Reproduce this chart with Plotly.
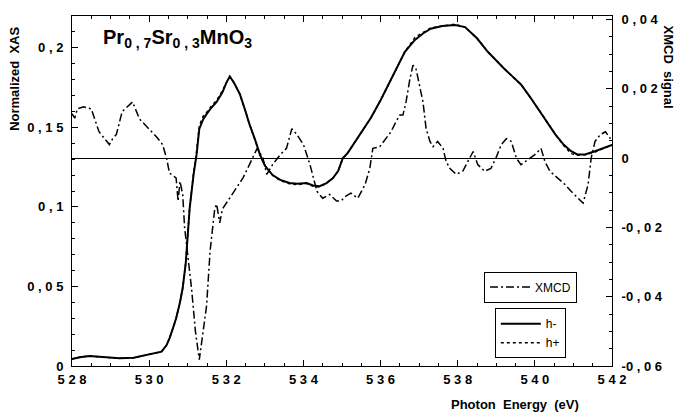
import plotly.graph_objects as go

# ---- data ----
energy_xas = [528.0, 528.2, 528.45, 528.8, 529.23, 529.6, 529.93, 530.15, 530.32, 530.45,
              530.53, 530.62, 530.7, 530.8, 530.87, 530.95, 531.0, 531.05, 531.15, 531.23,
              531.3, 531.4, 531.48, 531.6, 531.75, 531.9, 532.0, 532.09, 532.2, 532.35,
              532.5, 532.6, 532.75, 532.87, 533.0, 533.2, 533.4, 533.64, 533.85, 534.08,
              534.25, 534.42, 534.6, 534.76, 534.9, 535.02, 535.15, 535.4, 535.75, 536.0,
              536.2, 536.4, 536.63, 536.89, 537.1, 537.3, 537.6, 537.93, 538.19, 538.5,
              538.78, 539.2, 539.64, 539.85, 540.08, 540.3, 540.53, 540.75, 540.94, 541.1,
              541.3, 541.56, 541.8, 542.0]
xas_hminus = [0.0044, 0.0055, 0.0063, 0.0058, 0.0048, 0.0052, 0.0069, 0.0078, 0.009, 0.013,
              0.0175, 0.024, 0.03, 0.04, 0.049, 0.065, 0.08, 0.099, 0.12, 0.133,
              0.149, 0.155, 0.158, 0.162, 0.166, 0.172, 0.178, 0.182, 0.178, 0.171,
              0.16, 0.152, 0.142, 0.133, 0.126, 0.12, 0.117, 0.115, 0.1145, 0.115,
              0.1135, 0.113, 0.115, 0.118, 0.1225, 0.1306, 0.134, 0.143, 0.156, 0.167,
              0.177, 0.187, 0.1975, 0.205, 0.209, 0.212, 0.2137, 0.2144, 0.213, 0.206,
              0.1975, 0.187, 0.177, 0.17, 0.162, 0.154, 0.1456, 0.139, 0.135, 0.133,
              0.133, 0.135, 0.137, 0.139]
xas_hplus = [0.0044, 0.0055, 0.0063, 0.0058, 0.0048, 0.0052, 0.0069, 0.0078, 0.009, 0.013,
             0.0175, 0.024, 0.03, 0.04, 0.049, 0.065, 0.08, 0.099, 0.121, 0.135,
             0.151, 0.157, 0.159, 0.163, 0.167, 0.173, 0.178, 0.1815, 0.178, 0.171,
             0.16, 0.152, 0.142, 0.133, 0.126, 0.12, 0.1165, 0.1145, 0.114, 0.1148,
             0.113, 0.1125, 0.115, 0.118, 0.1225, 0.1306, 0.134, 0.143, 0.156, 0.167,
             0.177, 0.187, 0.1975, 0.2065, 0.2095, 0.2125, 0.2137, 0.2148, 0.213, 0.206,
             0.1975, 0.187, 0.177, 0.17, 0.162, 0.154, 0.1456, 0.1385, 0.1335, 0.1325,
             0.1328, 0.1345, 0.137, 0.139]

energy_xmcd = [528.0, 528.07, 528.14, 528.3, 528.5, 528.6, 528.7, 528.85, 528.97, 529.05,
               529.15, 529.3, 529.45, 529.57, 529.75, 529.9, 530.0, 530.2, 530.35, 530.45,
               530.53, 530.62, 530.7, 530.75, 530.8, 530.87, 530.92, 530.97, 531.1, 531.2,
               531.26, 531.3, 531.4, 531.49, 531.58, 531.62, 531.7, 531.75, 531.83, 531.9,
               532.09, 532.25, 532.43, 532.6, 532.8, 532.95, 533.05, 533.2, 533.4, 533.56,
               533.7, 533.83, 534.0, 534.17, 534.35, 534.5, 534.68, 534.86, 534.97, 535.1,
               535.23, 535.41, 535.6, 535.72, 535.8, 535.98, 536.27, 536.4, 536.5, 536.58,
               536.66, 536.76, 536.84, 536.92, 537.0, 537.1, 537.18, 537.28, 537.36, 537.48,
               537.62, 537.7, 537.8, 537.96, 538.13, 538.3, 538.4, 538.52, 538.7, 538.86,
               538.99, 539.13, 539.26, 539.39, 539.52, 539.64, 539.82, 540.0, 540.16, 540.26,
               540.39, 540.6, 540.78, 540.94, 541.12, 541.25, 541.38, 541.46, 541.56, 541.7,
               541.83, 541.96]
xmcd = [0.0128, 0.0115, 0.0142, 0.0148, 0.0142, 0.011, 0.0076, 0.0055, 0.0039, 0.0055,
        0.0068, 0.0134, 0.015, 0.0162, 0.0113, 0.0095, 0.0085, 0.006, 0.0039, 0.0,
        -0.0044, -0.005, -0.0058, -0.0124, -0.0067, -0.0105, -0.0201, -0.0248, -0.0377, -0.05,
        -0.0547, -0.0582, -0.05, -0.0425, -0.0268, -0.0233, -0.0147, -0.0133, -0.0187, -0.0147,
        -0.0116, -0.009, -0.0058, -0.0019, 0.0028, 0.0, -0.0047, -0.0019, 0.001, 0.0028,
        0.0085, 0.0068, 0.0039, -0.0019, -0.0096, -0.0116, -0.0105, -0.0124, -0.0124, -0.011,
        -0.0101, -0.0116, -0.0076, -0.003, 0.0028, 0.0033, 0.0076, 0.0105, 0.0124, 0.0124,
        0.0162, 0.0228, 0.0268, 0.0257, 0.021, 0.0162, 0.0085, 0.0048, 0.0033, 0.0048,
        0.0028, -0.001, -0.003, -0.0047, -0.0038, 0.0, 0.0019, -0.0019, -0.0038, -0.003,
        0.0, 0.0039, 0.0056, 0.0048, 0.0, -0.0019, -0.0004, 0.001, 0.0028, -0.001,
        -0.0038, -0.0058, -0.0076, -0.0096, -0.0116, -0.013, -0.0076, 0.0, 0.0048, 0.0068,
        0.0076, 0.0056]

x_ticks = [528, 530, 532, 534, 536, 538, 540, 542]
x_ticktext = ["5 2 8", "5 3 0", "5 3 2", "5 3 4", "5 3 6", "5 3 8", "5 4 0", "5 4 2"]
y_ticks = [0, 0.05, 0.1, 0.15, 0.2]
y_ticktext = ["0", "0 , 0 5", "0 , 1", "0 , 1 5", "0 , 2"]
y2_ticks = [-0.06, -0.04, -0.02, 0, 0.02, 0.04]
y2_ticktext = ["-0 , 0 6", "-0 , 0 4", "-0 , 0 2", "0", "0 , 0 2", "0 , 0 4"]

FONT = "Liberation Sans"
tickfont = dict(family=FONT, size=13, color="black", weight="bold")

fig = go.Figure()
fig.add_trace(go.Scatter(x=energy_xmcd, y=xmcd, yaxis="y2", mode="lines", name="XMCD",
                         line=dict(color="black", width=1.5, dash="8px,3px,2px,3px"),
                         legend="legend"))
fig.add_trace(go.Scatter(x=energy_xas, y=xas_hplus, mode="lines", name="h+",
                         line=dict(color="black", width=1.5, dash="dot"),
                         legend="legend2", legendrank=2))
fig.add_trace(go.Scatter(x=energy_xas, y=xas_hminus, mode="lines", name="h-",
                         line=dict(color="black", width=2),
                         legend="legend2", legendrank=1))

fig.update_layout(
    width=678, height=415,
    margin=dict(l=72, r=66, t=14, b=49),
    paper_bgcolor="white", plot_bgcolor="white",
    showlegend=True,
    xaxis=dict(range=[528, 542], tickvals=x_ticks, ticktext=x_ticktext, tickfont=tickfont,
               ticks="inside", ticklen=6, tickcolor="black", showline=True, linecolor="black",
               linewidth=1, mirror="ticks", showgrid=False, zeroline=False,
               ticklabelstandoff=1,
               minor=dict(dtick=0.5, tick0=528, ticks="inside", ticklen=3, tickcolor="black")),
    yaxis=dict(range=[0, 0.22], tickvals=y_ticks, ticktext=y_ticktext, tickfont=tickfont,
               ticks="inside", ticklen=6, tickcolor="black", showline=True, linecolor="black",
               linewidth=1, showgrid=False, zeroline=False, ticklabelstandoff=5,
               minor=dict(dtick=0.01, tick0=0, ticks="inside", ticklen=3, tickcolor="black")),
    yaxis2=dict(range=[-0.06, 0.041], overlaying="y", side="right", tickvals=y2_ticks,
                ticktext=y2_ticktext, tickfont=tickfont, ticks="inside", ticklen=6,
                tickcolor="black", showline=True, linecolor="black", linewidth=1,
                showgrid=False, zeroline=True, zerolinecolor="black", zerolinewidth=1,
                ticklabelstandoff=6,
                minor=dict(dtick=0.005, tick0=0, ticks="inside", ticklen=3, tickcolor="black")),
    legend=dict(x=0.763, y=0.27, xanchor="left", yanchor="top", bordercolor="black",
                borderwidth=1, bgcolor="white", font=dict(family=FONT, size=12, color="black"),
                itemwidth=40),
    legend2=dict(x=0.783, y=0.165, xanchor="left", yanchor="top", bordercolor="black",
                 borderwidth=1, bgcolor="white", font=dict(family=FONT, size=12, color="black"),
                 itemwidth=40, tracegroupgap=0),
    annotations=[
        dict(text="Pr<sub>0 , 7</sub>Sr<sub>0 , 3</sub>MnO<sub>3</sub>", xref="paper", yref="paper",
             x=0.054, y=0.935, xanchor="left", yanchor="middle", showarrow=False,
             font=dict(family=FONT, size=20, color="black", weight="bold")),
        dict(text="Normalized  XAS", xref="paper", yref="paper", x=-0.107, y=0.821,
             xanchor="center", yanchor="middle", textangle=-90, showarrow=False,
             font=dict(family=FONT, size=13, color="black", weight="bold")),
        dict(text="XMCD  signal", xref="paper", yref="paper", x=1.104, y=0.855,
             xanchor="center", yanchor="middle", textangle=90, showarrow=False,
             font=dict(family=FONT, size=13, color="black", weight="bold")),
        dict(text="Photon  Energy  (eV)", xref="paper", yref="paper", x=0.82, y=-0.111,
             xanchor="center", yanchor="middle", showarrow=False,
             font=dict(family=FONT, size=13, color="black", weight="bold")),
    ],
)

fig.write_html("out.html")
